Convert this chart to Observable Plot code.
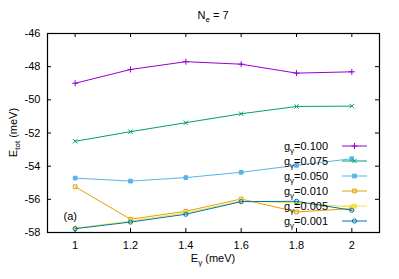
<!DOCTYPE html>
<html>
<head>
<meta charset="utf-8">
<script src="https://cdn.jsdelivr.net/npm/d3@7"></script>
<script src="https://cdn.jsdelivr.net/npm/@observablehq/plot@0.6"></script>
<style>
  html, body { margin: 0; padding: 0; background: #fff; }
  #chart svg { display: block; }
</style>
</head>
<body>
<div id="chart"></div>
<script>
// ---- data ----
const xValues = [1, 1.2, 1.4, 1.6, 1.8, 2];
const seriesNames = ["0.100", "0.075", "0.050", "0.010", "0.005", "0.001"];
const g100 = [-49.00, -48.17, -47.70, -47.85, -48.39, -48.31];
const g075 = [-52.50, -51.92, -51.38, -50.84, -50.40, -50.38];
const g050 = [-54.72, -54.90, -54.69, -54.37, -53.95, -53.55];
const g010 = [-55.24, -57.20, -56.72, -55.98, -56.76, -56.56];
const g005 = [-57.74, -57.31, -56.82, -56.10, -56.22, -56.46];
const g001 = [-57.77, -57.37, -56.90, -56.14, -56.12, -56.66];
const seriesValues = [g100, g075, g050, g010, g005, g001];
const seriesColors = ["#9400d3", "#009e73", "#56b4e9", "#e69f00", "#f0e442", "#0072b2"];
const seriesSymbols = ["plus", "times", "square", "square", "square", "circle"];
const seriesFilled = [false, false, true, false, true, false];
const xTicks = [1, 1.2, 1.4, 1.6, 1.8, 2];
const xTickLabels = ["1", "1.2", "1.4", "1.6", "1.8", "2"];
const yTicks = [-46, -48, -50, -52, -54, -56, -58];
const yTickLabels = ["-46", "-48", "-50", "-52", "-54", "-56", "-58"];
const annotation = {x: 0.982, y: -57.02, text: "(a)"};

const rows = [];
seriesNames.forEach((g, i) => {
  xValues.forEach((x, j) => rows.push({g, i, x, y: seriesValues[i][j]}));
});

const W = 399, H = 279;
const mL = 47, mR = 20, mT = 33, mB = 47;
const frameW = W - mL - mR, frameH = H - mT - mB;
const font = "'Liberation Sans', Arial, sans-serif";

const marks = [
  Plot.frame({stroke: "#000", strokeWidth: 1.2}),
  // inward ticks (bottom, top, left, right)
  Plot.tickX(xTicks, {x: d => d, insetTop: frameH - 4, stroke: "#000"}),
  Plot.tickX(xTicks, {x: d => d, insetBottom: frameH - 4, stroke: "#000"}),
  Plot.tickY(yTicks, {y: d => d, insetRight: frameW - 4, stroke: "#000"}),
  Plot.tickY(yTicks, {y: d => d, insetLeft: frameW - 4, stroke: "#000"}),
  Plot.axisX(xTicks, {tickSize: 0, tickPadding: 9, fontSize: 11,
    tickFormat: d => xTickLabels[xTicks.indexOf(d)], label: null}),
  Plot.axisY(yTicks, {tickSize: 0, tickPadding: 7, fontSize: 11,
    tickFormat: d => yTickLabels[yTicks.indexOf(d)], label: null}),
  Plot.text([annotation], {x: "x", y: "y", text: "text", fontSize: 11, textAnchor: "middle", fill: "#000"})
];
seriesNames.forEach((g, i) => {
  const data = rows.filter(r => r.g === g);
  marks.push(Plot.line(data, {x: "x", y: "y", stroke: seriesColors[i], strokeWidth: 1}));
  marks.push(Plot.dot(data, {x: "x", y: "y", symbol: () => seriesSymbols[i], r: 2.1,
    stroke: seriesColors[i], strokeWidth: 1,
    fill: seriesFilled[i] ? seriesColors[i] : "none"}));
});

const chart = Plot.plot({
  width: W, height: H,
  marginLeft: mL, marginRight: mR, marginTop: mT, marginBottom: mB,
  style: {fontFamily: font, fontSize: "11px", color: "#000", background: "#fff"},
  x: {domain: [0.9, 2.1]},
  y: {domain: [-58, -46]},
  symbol: {type: "identity"},
  marks
});

const svg = d3.select(chart);
// title
const t = svg.append("text").attr("x", mL + frameW / 2).attr("y", 19)
  .attr("text-anchor", "middle").attr("font-size", 11).attr("fill", "#000");
t.append("tspan").text("N");
t.append("tspan").attr("dy", 3).attr("font-size", 8).text("e");
t.append("tspan").attr("dy", -3).text(" = 7");
// x label
const xl = svg.append("text").attr("x", mL + frameW / 2).attr("y", 262)
  .attr("text-anchor", "middle").attr("font-size", 11).attr("fill", "#000");
xl.append("tspan").text("E");
xl.append("tspan").attr("dy", 3).attr("font-size", 8).text("γ");
xl.append("tspan").attr("dy", -3).text(" (meV)");
// y label
const yl = svg.append("text").attr("transform", `translate(17,${mT + frameH / 2}) rotate(-90)`)
  .attr("text-anchor", "middle").attr("font-size", 11).attr("fill", "#000");
yl.append("tspan").text("E");
yl.append("tspan").attr("dy", 3).attr("font-size", 8).text("tot");
yl.append("tspan").attr("dy", -3).text(" (meV)");

// legend
const symMap = {plus: d3.symbolPlus, times: d3.symbolTimes, square: d3.symbolSquare, circle: d3.symbolCircle};
const lg = svg.append("g");
seriesNames.forEach((g, i) => {
  const yy = 146 + 15 * i;
  const tx = lg.append("text").attr("x", 328).attr("y", yy + 4)
    .attr("text-anchor", "end").attr("font-size", 11).attr("fill", "#000");
  tx.append("tspan").text("g");
  tx.append("tspan").attr("dy", 3).attr("font-size", 8).text("γ");
  tx.append("tspan").attr("dy", -3).text("=" + g);
  lg.append("line").attr("x1", 342).attr("x2", 367).attr("y1", yy).attr("y2", yy)
    .attr("stroke", seriesColors[i]).attr("stroke-width", 1);
  lg.append("path").attr("transform", `translate(354.5,${yy})`)
    .attr("d", d3.symbol(symMap[seriesSymbols[i]], 14)())
    .attr("stroke", seriesColors[i]).attr("stroke-width", 1)
    .attr("fill", seriesFilled[i] ? seriesColors[i] : "none");
});

document.getElementById("chart").appendChild(chart);
</script>
</body>
</html>
